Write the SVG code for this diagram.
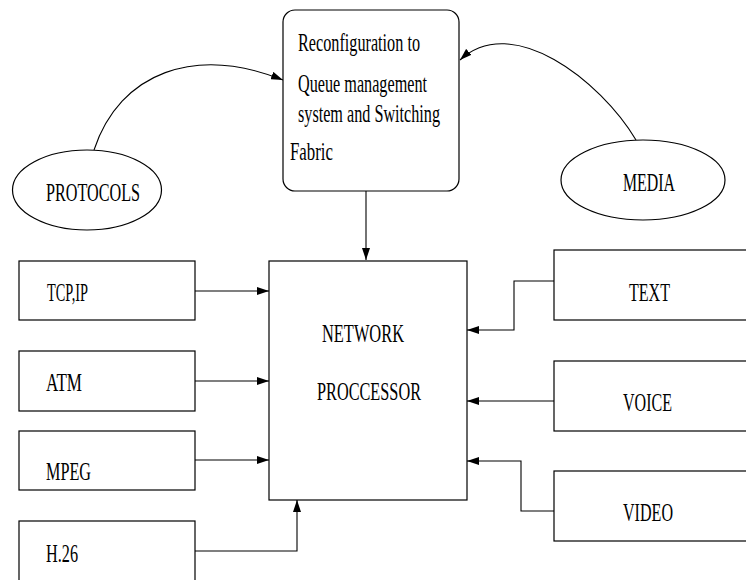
<svg xmlns="http://www.w3.org/2000/svg" width="746" height="580" viewBox="0 0 746 580">
  <defs>
    <marker id="arrow" viewBox="0 0 12 8" refX="12" refY="4" markerWidth="12" markerHeight="8" markerUnits="userSpaceOnUse" orient="auto">
      <path d="M0,0 L12,4 L0,8 Z" fill="#000"/>
    </marker>
    <style>
      .box { fill: #fff; stroke: #000; stroke-width: 1.2; }
      .lbl { font-family: "Liberation Serif", "Times New Roman", serif; font-size: 25px; fill: #000; }
      .edge { fill: none; stroke: #000; stroke-width: 1.1; marker-end: url(#arrow); }
    </style>
  </defs>

  <rect width="746" height="580" fill="#fff"/>

  <!-- connectors -->
  <g id="connectors">
    <path class="edge" d="M94,150 C120,72 195,45 283,80"/>
    <path class="edge" d="M636,140 C600,80 512,12 460,60"/>
    <path class="edge" d="M366,191 L366,260"/>
    <path class="edge" d="M195,291 L269,291"/>
    <path class="edge" d="M195,381 L269,381"/>
    <path class="edge" d="M195,460 L269,460"/>
    <path class="edge" d="M195,551 L297,551 L297,500"/>
    <path class="edge" d="M554,281 L514,281 L514,330 L467,330"/>
    <path class="edge" d="M554,401 L467,401"/>
    <path class="edge" d="M554,511 L521,511 L521,461 L467,461"/>
  </g>

  <!-- reconfiguration block -->
  <g id="reconfig">
    <rect class="box" x="283" y="10" width="176" height="181" rx="12" ry="12"/>
    <text class="lbl" x="298" y="51" textLength="122" lengthAdjust="spacingAndGlyphs">Reconfiguration to</text>
    <text class="lbl" x="298" y="92" textLength="129" lengthAdjust="spacingAndGlyphs">Queue management</text>
    <text class="lbl" x="298" y="122" textLength="142" lengthAdjust="spacingAndGlyphs">system and Switching</text>
    <text class="lbl" x="290" y="160" textLength="43" lengthAdjust="spacingAndGlyphs">Fabric</text>
  </g>

  <g id="protocols">
    <ellipse class="box" cx="87" cy="190" rx="74.5" ry="40"/>
    <text class="lbl" x="46" y="201" textLength="94" lengthAdjust="spacingAndGlyphs">PROTOCOLS</text>
  </g>

  <g id="media">
    <ellipse class="box" cx="643" cy="180" rx="82" ry="40"/>
    <text class="lbl" x="623" y="191" textLength="52" lengthAdjust="spacingAndGlyphs">MEDIA</text>
  </g>

  <g id="network-processor">
    <rect class="box" x="269" y="261" width="198" height="239"/>
    <text class="lbl" x="322" y="342" textLength="82" lengthAdjust="spacingAndGlyphs">NETWORK</text>
    <text class="lbl" x="317" y="400" textLength="104" lengthAdjust="spacingAndGlyphs">PROCCESSOR</text>
  </g>

  <g id="tcpip">
    <rect class="box" x="19" y="261" width="176" height="59"/>
    <text class="lbl" x="47" y="301" textLength="41" lengthAdjust="spacingAndGlyphs">TCP,IP</text>
  </g>
  <g id="atm">
    <rect class="box" x="19" y="351" width="176" height="60"/>
    <text class="lbl" x="46" y="391" textLength="36" lengthAdjust="spacingAndGlyphs">ATM</text>
  </g>
  <g id="mpeg">
    <rect class="box" x="19" y="431" width="176" height="59"/>
    <text class="lbl" x="46" y="480" textLength="45" lengthAdjust="spacingAndGlyphs">MPEG</text>
  </g>
  <g id="h26">
    <rect class="box" x="19" y="521" width="176" height="70"/>
    <text class="lbl" x="46" y="562" textLength="32" lengthAdjust="spacingAndGlyphs">H.26</text>
  </g>

  <g id="text">
    <rect class="box" x="554" y="250" width="200" height="70"/>
    <text class="lbl" x="629" y="301" textLength="41" lengthAdjust="spacingAndGlyphs">TEXT</text>
  </g>
  <g id="voice">
    <rect class="box" x="554" y="361" width="200" height="70"/>
    <text class="lbl" x="623" y="411" textLength="49" lengthAdjust="spacingAndGlyphs">VOICE</text>
  </g>
  <g id="video">
    <rect class="box" x="554" y="471" width="200" height="70"/>
    <text class="lbl" x="623" y="521" textLength="50" lengthAdjust="spacingAndGlyphs">VIDEO</text>
  </g>
</svg>
